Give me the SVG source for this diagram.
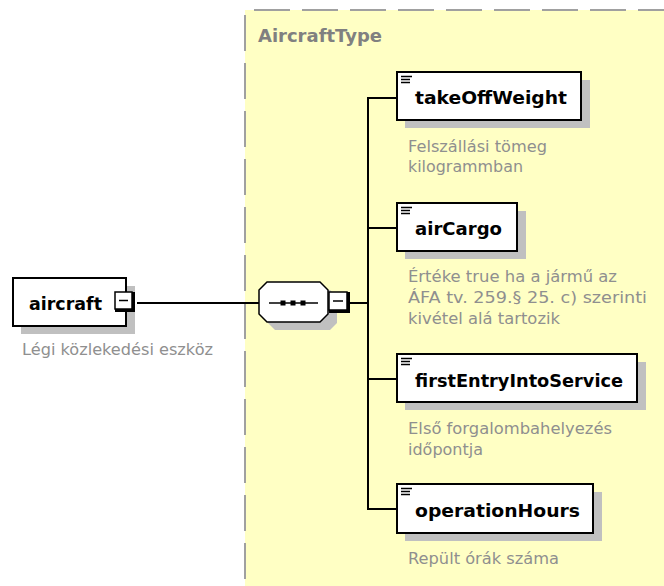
<svg xmlns="http://www.w3.org/2000/svg" width="664" height="586" viewBox="0 0 664 586">
<style>
.name{font-family:"DejaVu Sans","Liberation Sans",sans-serif;font-weight:bold;font-size:17px;fill:#000}
.desc{font-family:"DejaVu Sans","Liberation Sans",sans-serif;font-size:15px;fill:#8f8f8f}
.title{font-family:"DejaVu Sans","Liberation Sans",sans-serif;font-weight:bold;font-size:17px;fill:#808080}
.box{fill:#fff;stroke:#000;stroke-width:2}
.shadow{fill:#c0c0c0}
.conn{stroke:#000;stroke-width:2;fill:none}
.icon{stroke:#000;stroke-width:1.5}
.border{stroke:#a0a0a0;stroke-width:2;fill:none;stroke-dasharray:36 12}
</style>
<rect x="0" y="0" width="664" height="586" fill="#fff"/>
<g id="AircraftType">
<rect x="245" y="10" width="419" height="576" fill="#ffffc4"/>
<line class="border" x1="245" y1="10" x2="664" y2="10" stroke-dashoffset="39"/>
<line class="border" x1="245" y1="10" x2="245" y2="586" stroke-dashoffset="43"/>
<text class="title" x="258" y="42" textLength="124" lengthAdjust="spacingAndGlyphs">AircraftType</text>
</g>
<g id="connectors">
<line class="conn" x1="137" y1="303" x2="260" y2="303"/>
<line class="conn" x1="349" y1="303" x2="368" y2="303"/>
<line class="conn" x1="368" y1="97" x2="368" y2="510"/>
<line class="conn" x1="367" y1="98" x2="397" y2="98"/>
<line class="conn" x1="367" y1="228" x2="397" y2="228"/>
<line class="conn" x1="367" y1="379" x2="397" y2="379"/>
<line class="conn" x1="367" y1="509" x2="397" y2="509"/>
</g>
<g id="aircraft">
<rect class="shadow" x="21" y="286" width="114" height="48"/>
<rect class="box" x="13" y="278" width="113" height="48"/>
<text class="name" x="29" y="310" textLength="73" lengthAdjust="spacingAndGlyphs">aircraft</text>
<rect x="115" y="292" width="20" height="20" fill="#000"/>
<rect x="115" y="292" width="17" height="17" fill="#fff" stroke="#000" stroke-width="1.5"/>
<line x1="119" y1="300.5" x2="128" y2="300.5" stroke="#000" stroke-width="1.5"/>
<text class="desc" x="22" y="355" textLength="191" lengthAdjust="spacingAndGlyphs">Légi közlekedési eszköz</text>
</g>
<g id="sequence">
<path class="shadow" d="M275,290 H330 L337,297 V323 L330,330 H275 L268,323 V297 Z"/>
<path d="M267,282 H320 L328,290 V314 L320,322 H267 L259,314 V290 Z" fill="#fff" stroke="#000" stroke-width="1.5"/>
<line x1="269" y1="303" x2="318" y2="303" stroke="#000" stroke-width="1.5"/>
<rect x="280.5" y="300.5" width="5" height="5" fill="#000"/>
<rect x="290.5" y="300.5" width="5" height="5" fill="#000"/>
<rect x="300.5" y="300.5" width="5" height="5" fill="#000"/>
<rect x="329" y="292" width="21" height="21" fill="#000"/>
<rect x="329" y="292" width="18" height="18" fill="#fff" stroke="#000" stroke-width="1.5"/>
<line x1="333" y1="301" x2="343" y2="301" stroke="#000" stroke-width="1.5"/>
</g>
<g id="takeOffWeight">
<rect class="shadow" x="405" y="80" width="185" height="48"/>
<rect class="box" x="397" y="72" width="184" height="48"/>
<line class="icon" x1="401" y1="76.5" x2="412" y2="76.5"/>
<line class="icon" x1="401" y1="79.5" x2="410" y2="79.5"/>
<line class="icon" x1="401" y1="82.5" x2="410" y2="82.5"/>
<text class="name" x="415" y="104" textLength="152" lengthAdjust="spacingAndGlyphs">takeOffWeight</text>
<text class="desc" x="408" y="152" textLength="139" lengthAdjust="spacingAndGlyphs">Felszállási tömeg</text>
<text class="desc" x="408" y="172" textLength="115" lengthAdjust="spacingAndGlyphs">kilogrammban</text>
</g>
<g id="airCargo">
<rect class="shadow" x="405" y="211" width="121" height="48"/>
<rect class="box" x="397" y="203" width="120" height="48"/>
<line class="icon" x1="401" y1="207.5" x2="412" y2="207.5"/>
<line class="icon" x1="401" y1="210.5" x2="410" y2="210.5"/>
<line class="icon" x1="401" y1="213.5" x2="410" y2="213.5"/>
<text class="name" x="415" y="235" textLength="87" lengthAdjust="spacingAndGlyphs">airCargo</text>
<text class="desc" x="408" y="282" textLength="209" lengthAdjust="spacingAndGlyphs">Értéke true ha a jármű az</text>
<text class="desc" x="408" y="303" textLength="239" lengthAdjust="spacingAndGlyphs">ÁFA tv. 259.§ 25. c) szerinti</text>
<text class="desc" x="408" y="324" textLength="152" lengthAdjust="spacingAndGlyphs">kivétel alá tartozik</text>
</g>
<g id="firstEntryIntoService">
<rect class="shadow" x="405" y="362" width="241" height="48"/>
<rect class="box" x="397" y="354" width="240" height="48"/>
<line class="icon" x1="401" y1="358.5" x2="412" y2="358.5"/>
<line class="icon" x1="401" y1="361.5" x2="410" y2="361.5"/>
<line class="icon" x1="401" y1="364.5" x2="410" y2="364.5"/>
<text class="name" x="415" y="387" textLength="208" lengthAdjust="spacingAndGlyphs">firstEntryIntoService</text>
<text class="desc" x="408" y="434" textLength="204" lengthAdjust="spacingAndGlyphs">Első forgalombahelyezés</text>
<text class="desc" x="408" y="455" textLength="75" lengthAdjust="spacingAndGlyphs">időpontja</text>
</g>
<g id="operationHours">
<rect class="shadow" x="405" y="492" width="197" height="49"/>
<rect class="box" x="397" y="484" width="196" height="49"/>
<line class="icon" x1="401" y1="488.5" x2="412" y2="488.5"/>
<line class="icon" x1="401" y1="491.5" x2="410" y2="491.5"/>
<line class="icon" x1="401" y1="494.5" x2="410" y2="494.5"/>
<text class="name" x="415" y="517" textLength="165" lengthAdjust="spacingAndGlyphs">operationHours</text>
<text class="desc" x="408" y="564" textLength="151" lengthAdjust="spacingAndGlyphs">Repült órák száma</text>
</g>
</svg>
